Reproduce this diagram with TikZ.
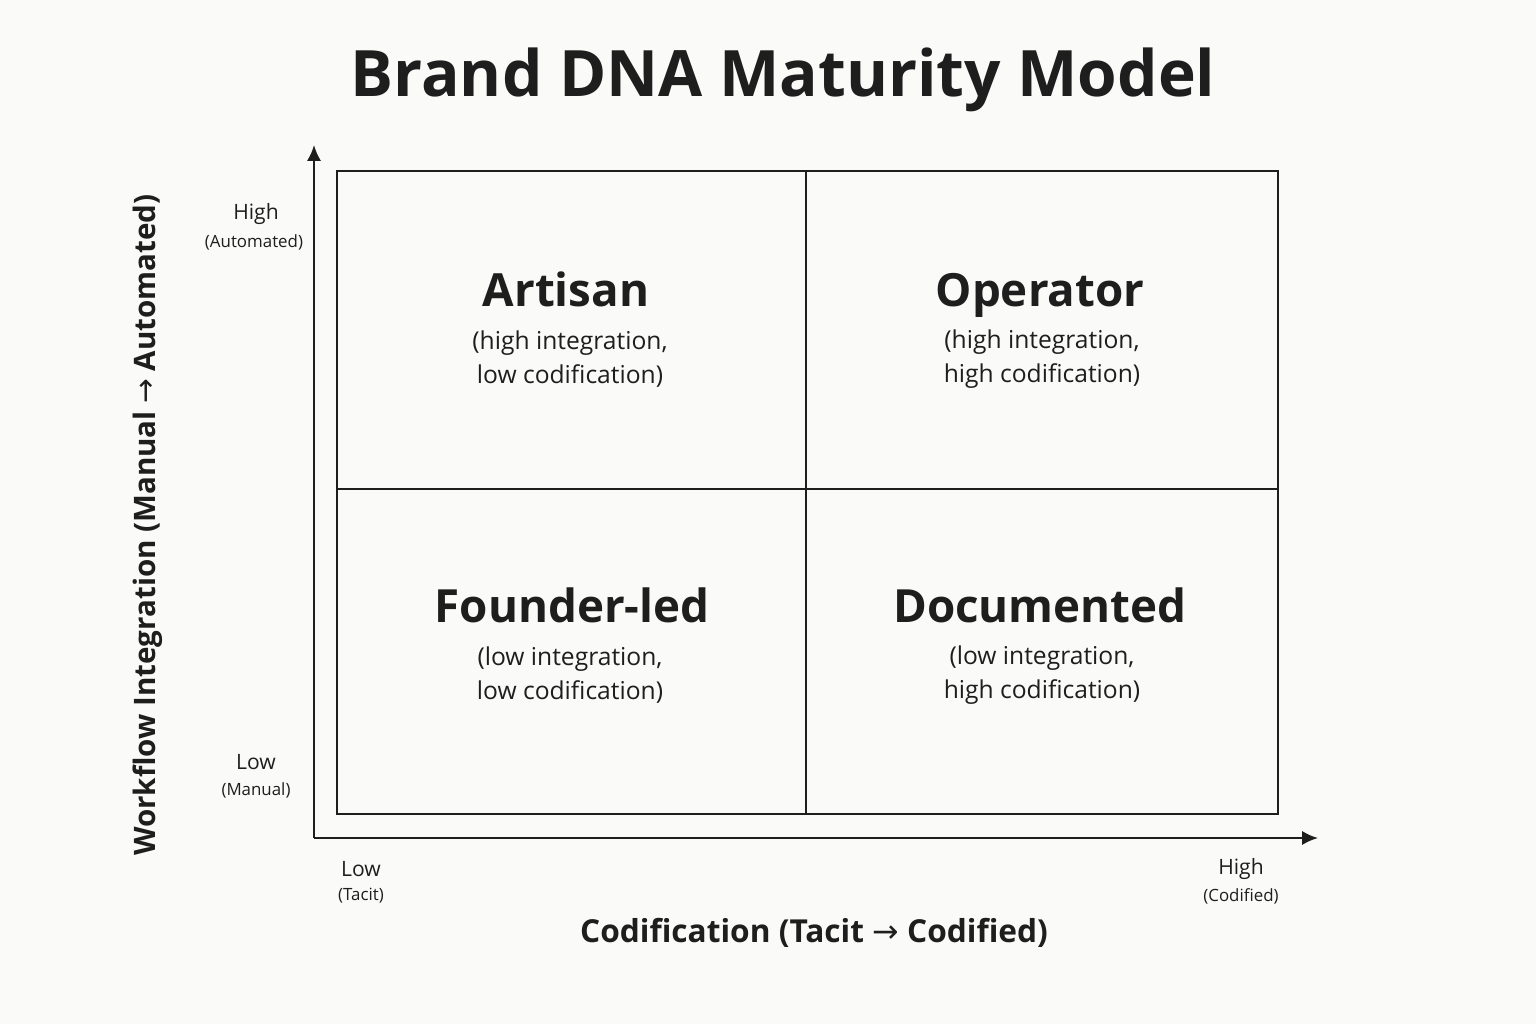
\documentclass[tikz,border=0pt]{standalone}
\usepackage{fontspec}
\setmainfont{Open Sans}
\newfontfamily\symfont{DejaVu Sans}
\usepackage{xcolor}
\usetikzlibrary{positioning,arrows.meta}
\definecolor{paper}{HTML}{FAFAF8}
\definecolor{ink}{HTML}{1E1E1E}
\begin{document}
\begin{tikzpicture}[
    x=0.01cm, y=-0.01cm,
    cell/.style={draw=ink, line width=0.6pt},
    qtitle/.style={font=\fontsize{13}{15}\selectfont\bfseries, text=ink, anchor=base},
    qnote/.style={font=\fontsize{7}{9.8}\selectfont, text=ink, align=center},
    tick/.style={font=\fontsize{6}{7}\selectfont, text=ink, align=center},
    tickx/.style={font=\fontsize{4.8}{6}\selectfont, text=ink},
    axis/.style={draw=ink, line width=0.6pt, -{Latex[length=4.5pt,width=4pt]}},
    >=Latex
]
\fill[paper] (0,0) rectangle (1536,1024);
\useasboundingbox (0,0) rectangle (1536,1024);

% Title
\node[font=\fontsize{18.2}{21}\selectfont\bfseries, text=ink] (title) at (783,80) {Brand DNA Maturity Model};

% Grid
\draw[cell] (337,171) rectangle (1278,814);
\draw[cell] (806,171) -- (806,814);
\draw[cell] (337,489) -- (1278,489);

% Axes
\coordinate (origin) at (314,838);
\coordinate (ytop) at (314,145);
\coordinate (xend) at (1318,838);
\draw[axis] (origin) -- (ytop);
\draw[axis] (origin) -- (xend);

% Quadrants
\node[qtitle] (artisan) at (566,306) {Artisan};
\node[qnote] (artisannote) at (570,359) {(high integration,\\low codification)};
\node[qtitle] (operator) at (1040,306) {Operator};
\node[qnote] (operatornote) at (1042,359) {(high integration,\\high codification)};
\node[qtitle] (founder) at (572,622) {Founder-led};
\node[qnote] (foundernote) at (570,675) {(low integration,\\low codification)};
\node[qtitle] (documented) at (1040,622) {Documented};
\node[qnote] (documentednote) at (1042,675) {(low integration,\\high codification)};

% Axis ticks
\node[tick] (yhigh) at (256,214) {High};
\node[tickx] at (254,242) {(Automated)};
\node[tick] (ylow) at (256,762) {Low};
\node[tickx] at (256,790) {(Manual)};
\node[tick] (xlow) at (361,869) {Low};
\node[tickx] at (361,896) {(Tacit)};
\node[tick] (xhigh) at (1241,869) {High};
\node[tickx] at (1241,896) {(Codified)};

% Axis labels
\node[font=\fontsize{9}{11}\selectfont\bfseries, text=ink] (xlabel) at (814,933) {Codification (Tacit {\symfont\mdseries →} Codified)};
\node[font=\fontsize{8.4}{10}\selectfont\bfseries, text=ink, rotate=90] (ylabel) at (148,525) {Workflow Integration (Manual {\symfont\mdseries →} Automated)};
\end{tikzpicture}
\end{document}
